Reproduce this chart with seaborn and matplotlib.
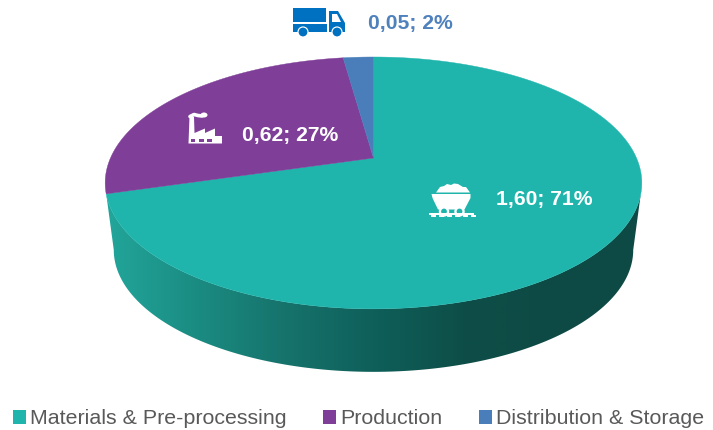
import numpy as np
import matplotlib
matplotlib.use("Agg")
import matplotlib.pyplot as plt
from matplotlib.patches import Polygon, Patch, Circle, Rectangle, Ellipse
import seaborn as sns

# ---- data
categories = ["Materials & Pre-processing", "Production", "Distribution & Storage"]
values = [1.60, 0.62, 0.05]
percents = [71, 27, 2]

# ---- styles
colors = ["#1FB5AC", "#7F3F98", "#4A7EBB"]
wall_stops = ["#22A69B", "#1B8C82", "#16736C", "#0F5F5A", "#0E4E48", "#0E4A45", "#0E4A45"]
truck_blue = "#0070C0"
label_blue = "#4F81BD"
grey = "#595959"

sns.set_theme(style="white")
plt.rcParams["font.family"] = ["Liberation Sans", "DejaVu Sans"]

fig, ax = plt.subplots(figsize=(7.13, 4.30), dpi=100)
ax.set_position([0, 0, 1, 1])
ax.axis("off")

# ---- perspective projection of a unit disc
CX, APEX_Y, A, B, C = 373.5, 158.0, 263.0, 121.0, 0.198
S, DY = 0.968, 67.8


def project(theta, r=1.0, bottom=False):
    u, v = r * np.sin(theta), r * np.cos(theta)
    w = 1 + C * v
    s = S if bottom else 1.0
    return np.column_stack([CX + s * A * u / w,
                            APEX_Y + (DY if bottom else 0) - s * B * v / w])


fractions = np.cumsum([0] + values) / sum(values)
angles = 2 * np.pi * fractions

# ---- side wall
top_arc = project(np.linspace(np.radians(106.3), angles[1], 200))
bot_arc = project(np.linspace(np.radians(258.6), np.radians(101.4), 200), bottom=True)
wall = Polygon(np.vstack([top_arc, bot_arc]), closed=True, fc="none", ec="none",
               transform=ax.transData)
ax.add_patch(wall)
cmap = sns.blend_palette(wall_stops, as_cmap=True)
grad = ax.imshow(np.linspace(0, 1, 512)[None, :], cmap=cmap, aspect="auto",
                 extent=(105, 642, 380, 150), zorder=1, interpolation="bilinear")
grad.set_clip_path(wall)

# ---- top face
for i, col in enumerate(colors):
    arc = project(np.linspace(angles[i], angles[i + 1], 240))
    pts = np.vstack([[CX, APEX_Y], arc])
    ax.add_patch(Polygon(pts, closed=True, fc=col, ec=col, lw=0.3, zorder=2))


# ---- icons
def truck(c):
    ax.add_patch(Rectangle((293, 8), 33, 14, fc=c, ec="none", zorder=4))
    ax.add_patch(Rectangle((293, 23.5), 34, 8.5, fc=c, ec="none", zorder=4))
    ax.add_patch(Polygon([(329, 11), (338, 11), (345, 23), (345, 32), (329, 32)], fc=c, ec="none", zorder=4))
    ax.add_patch(Polygon([(332, 14), (337, 14), (341, 22), (332, 22)], fc="white", ec="none", zorder=5))
    for x in (303, 337):
        ax.add_patch(Circle((x, 32), 5.6, fc="white", ec="none", zorder=5))
        ax.add_patch(Circle((x, 32), 4.4, fc=c, ec="none", zorder=6))


def factory(bg):
    f = [(188.5, 143.5), (189.5, 117), (194, 117), (194.5, 133), (205, 128.5), (205, 133),
         (215, 128.5), (215, 136), (222, 136), (222, 143.5)]
    ax.add_patch(Polygon(f, fc="white", ec="none", zorder=4))
    ax.plot([190, 194, 198, 202], [116.5, 114.5, 115.5, 116], color="white", lw=2.6,
            solid_capstyle="round", zorder=4)
    ax.add_patch(Ellipse((204, 115), 7, 5, fc="white", ec="none", zorder=4))
    for x in (190.8, 199.3, 207.4):
        ax.add_patch(Rectangle((x, 139), 4.2, 3.3, fc=bg, ec="none", zorder=5))


def cart(bg):
    heap = [(436, 192.5), (440, 187), (444, 186), (447, 184), (451, 185), (454, 183.5), (458, 184),
            (463, 187), (466, 187), (470, 192.5)]
    ax.add_patch(Polygon(heap, fc="white", ec="none", zorder=4))
    body = [(431.5, 194), (470.5, 194), (470.5, 198), (464.5, 209.5), (438, 209.5), (432.5, 198)]
    ax.add_patch(Polygon(body, fc="white", ec="none", zorder=4))
    for x in (444, 459.5):
        ax.add_patch(Circle((x, 211.5), 5.2, fc="white", ec="none", zorder=5))
        ax.add_patch(Circle((x, 211.5), 2.9, fc=bg, ec="none", zorder=6))
    ax.add_patch(Rectangle((429, 213), 45, 2.2, fc="white", ec="none", zorder=8))
    for x in np.arange(431, 472, 8):
        ax.add_patch(Rectangle((x, 215), 5, 2, fc="white", ec="none", zorder=8))


truck(truck_blue)
factory(colors[1])
cart(colors[0])

# ---- data labels
label_pos = [(544.5, 199), (290, 135.5), (410.5, 23.5)]
label_col = ["white", "white", label_blue]
for v, p, pos, col in zip(values, percents, label_pos, label_col):
    ax.text(pos[0], pos[1], f"{v:.2f}".replace(".", ",") + f"; {p}%", color=col, fontsize=15.2,
            fontweight="bold", ha="center", va="center", zorder=9)

# ---- legend
handles = [Patch(fc=c, ec="none", label=n) for c, n in zip(colors, categories)]
ax.legend(handles=handles, ncol=3, loc="center", bbox_to_anchor=(358.5, 419),
          bbox_transform=ax.transData, frameon=False, fontsize=15.4, labelcolor=grey,
          handlelength=0.62, handleheight=0.62, handletextpad=0.18, columnspacing=1.72,
          borderpad=0, borderaxespad=0)

ax.set_xlim(0, 713)
ax.set_ylim(430, 0)
sns.despine(ax=ax, left=True, bottom=True)
fig.savefig("out.png", dpi=100, facecolor="white")
